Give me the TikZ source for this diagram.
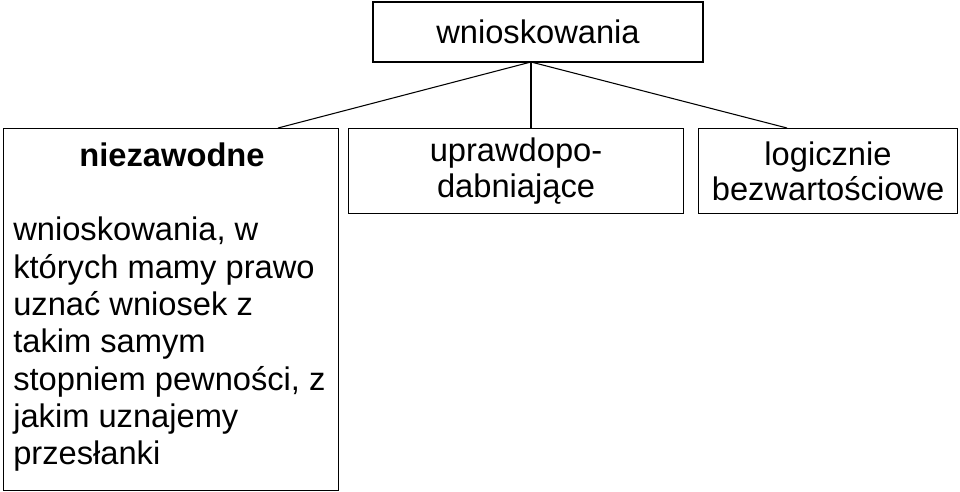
\documentclass[tikz,border=0pt]{standalone}
\usepackage{fontspec}
\setmainfont{Liberation Sans}
\usetikzlibrary{positioning}
\tikzset{
  box/.style={draw,rectangle,line width=0.8pt,inner sep=0pt},
  link/.style={line width=0.8pt}
}
\begin{document}
\begin{tikzpicture}[x=0.75pt,y=-0.75pt,font=\fontsize{24.5}{28}\selectfont]
\useasboundingbox (0,0) rectangle (960,492);
%top
\node (root) [box,minimum width=330*0.75pt,minimum height=60*0.75pt] at (538,32) {wnioskowania};
%children
\node (left) [box,anchor=north west,minimum width=335*0.75pt,minimum height=362*0.75pt] at (3,128) {};
\node (mid) [box,anchor=north west,minimum width=335*0.75pt,minimum height=85*0.75pt] at (348,128) {};
\node (right) [box,anchor=north west,minimum width=259*0.75pt,minimum height=85*0.75pt] at (698,128) {};
%texts
\node (lefttitle) at (172,155) {\textbf{niezawodne}};
\node (lefttext) [anchor=north west,align=left,inner sep=0pt] at (13,217) {wnioskowania, w\\których mamy prawo\\uznać wniosek z\\takim samym\\stopniem pewności, z\\jakim uznajemy\\przesłanki};
\node (midtext) [align=center,inner sep=0pt,font=\fontsize{24.5}{26.5}\selectfont] at (mid.center) {uprawdopo-\\dabniające};
\node (righttext) [align=center,inner sep=0pt,font=\fontsize{24.5}{26.5}\selectfont] at (right.center) {logicznie\\bezwartościowe};
%links
\coordinate (hub) at (531,62);
\coordinate (lefttop) at (278,128);
\coordinate (midtop) at (531,128);
\coordinate (righttop) at (787,128);
\draw [link] (hub) -- (lefttop);
\draw [link] (hub) -- (midtop);
\draw [link] (hub) -- (righttop);
\end{tikzpicture}
\end{document}
